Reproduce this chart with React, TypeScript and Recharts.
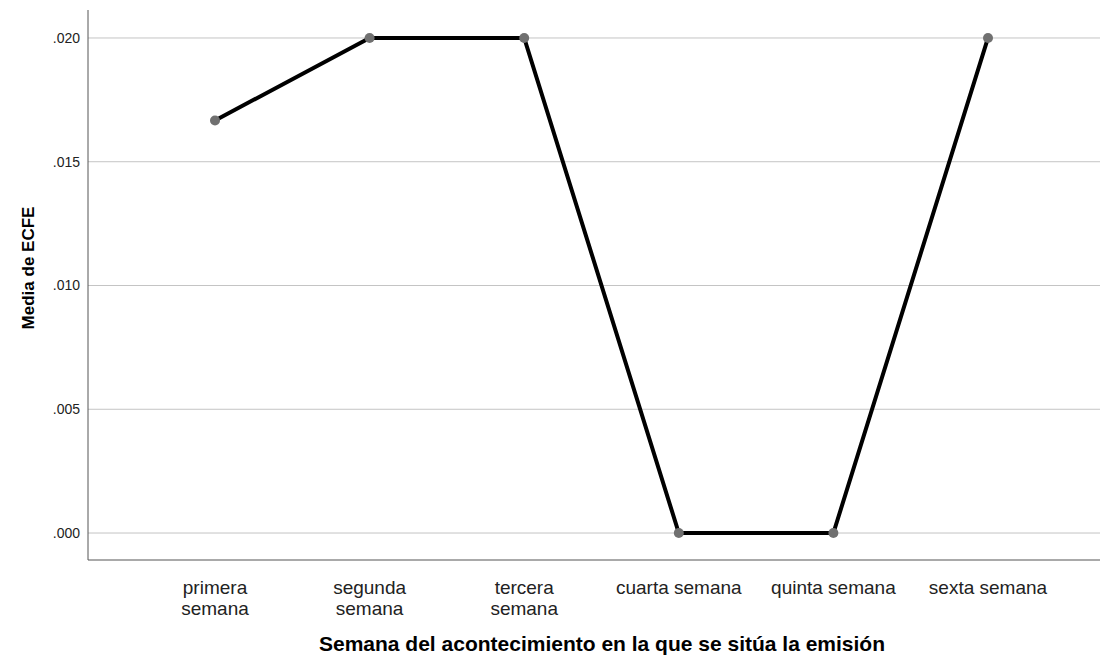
import { LineChart, Line, XAxis, YAxis, CartesianGrid } from 'recharts';

const semanas = [
    'primera\nsemana',
    'segunda\nsemana',
    'tercera\nsemana',
    'cuarta semana',
    'quinta semana',
    'sexta semana',
];
const mediaECFE = [0.016667, 0.02, 0.02, 0, 0, 0.02];
const yTicks = [0, 0.005, 0.01, 0.015, 0.02];
const yDomain = [-0.00109, 0.02113];

const data = semanas.map((semana, i) => ({ semana, media: mediaECFE[i] }));

const FONT = 'Arial, "Liberation Sans", sans-serif';

function CategoryTick(props: any) {
    const { x, y, payload } = props;
    const lines = String(payload.value).split('\n');
    return (
        <text x={x} y={y} textAnchor="middle" fill="#222" fontSize={19} fontFamily={FONT}>
            {lines.map((line, i) => (
                <tspan key={i} x={x} dy={i === 0 ? 26 : 21}>
                    {line}
                </tspan>
            ))}
        </text>
    );
}

function XTitle(props: any) {
    const { viewBox } = props;
    const cx = viewBox.x + viewBox.width / 2 + 8;
    return (
        <text x={cx} y={651} textAnchor="middle" fontFamily={FONT} fontSize={21} fontWeight="bold" fill="#000">
            Semana del acontecimiento en la que se sitúa la emisión
        </text>
    );
}

function YTitle() {
    const x = 34;
    const y = 268;
    return (
        <text
            x={x}
            y={y}
            transform={`rotate(-90, ${x}, ${y})`}
            textAnchor="middle"
            fontFamily={FONT}
            fontSize={17}
            fontWeight="bold"
            fill="#000"
        >
            Media de ECFE
        </text>
    );
}

export default function App() {
    return (
        <div
            style={{
                position: 'fixed',
                top: 0,
                left: 0,
                background: '#fff',
                width: 1104,
                height: 655,
            }}
        >
            <LineChart
                width={1104}
                height={655}
                data={data}
                margin={{ top: 10, right: 4, bottom: 0, left: 0 }}
            >
                <CartesianGrid
                    horizontal
                    vertical={false}
                    stroke="#c4c4c4"
                    horizontalCoordinatesGenerator={({ offset }: any) =>
                        yTicks.map(
                            (t) =>
                                offset.top +
                                (offset.height * (yDomain[1] - t)) / (yDomain[1] - yDomain[0])
                        )
                    }
                />
                <XAxis
                    dataKey="semana"
                    height={95}
                    padding={{ left: 127, right: 112 }}
                    stroke="#555"
                    tickLine={false}
                    tick={<CategoryTick />}
                    interval={0}
                    label={<XTitle />}
                />
                <YAxis
                    width={88}
                    domain={yDomain}
                    ticks={yTicks}
                    tickFormatter={(v) => v.toFixed(3).replace(/^0/, '')}
                    stroke="#555"
                    tickLine={false}
                    tickSize={0}
                    tickMargin={8}
                    tick={{ fill: '#222', fontSize: 14, fontFamily: FONT }}
                    label={<YTitle />}
                />
                <Line
                    type="linear"
                    dataKey="media"
                    stroke="#000"
                    strokeWidth={4}
                    dot={{ r: 5, fill: '#707070', stroke: 'none' }}
                    activeDot={false}
                    isAnimationActive={false}
                />
            </LineChart>
        </div>
    );
}
